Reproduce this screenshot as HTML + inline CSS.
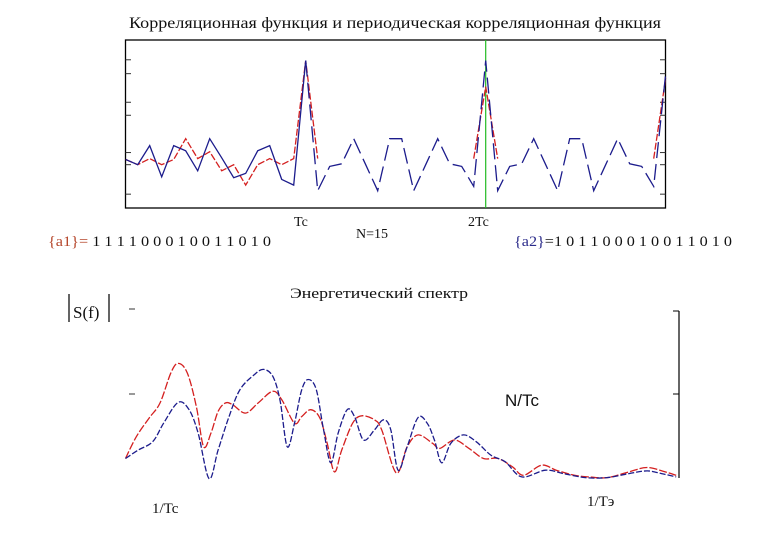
<!DOCTYPE html>
<html><head><meta charset="utf-8"><style>
html,body{margin:0;padding:0;background:#fff;width:780px;height:540px;overflow:hidden}
svg{display:block}
.t{font-family:"Liberation Serif",serif;fill:#111}
</style></head><body>
<svg width="780" height="540" viewBox="0 0 780 540">
<text class="t" x="129" y="28" font-size="16" textLength="532" lengthAdjust="spacingAndGlyphs">Корреляционная функция и периодическая корреляционная функция</text>
<rect x="125.5" y="40" width="540" height="168" fill="none" stroke="#000" stroke-width="1.3"/>
<g id="ticksTop"></g>
<line x1="485.7" y1="40" x2="485.7" y2="208" stroke="#22bb22" stroke-width="1.2"/>
<g id="topSeries"></g>
<text class="t" x="294" y="226" font-size="14">Tc</text>
<text class="t" x="356" y="238" font-size="14">N=15</text>
<text class="t" x="468" y="226" font-size="14">2Tc</text>
<text class="t" x="48" y="246" font-size="15" textLength="223" lengthAdjust="spacingAndGlyphs"><tspan fill="#b5452a">{a1}=</tspan> 1 1 1 1 0 0 0 1 0 0 1 1 0 1 0</text>
<text class="t" x="514" y="246" font-size="15" textLength="218" lengthAdjust="spacingAndGlyphs"><tspan fill="#2a2a8a">{a2}</tspan>=1 0 1 1 0 0 0 1 0 0 1 1 0 1 0</text>

<text class="t" x="290" y="298" font-size="15" textLength="178" lengthAdjust="spacingAndGlyphs">Энергетический спектр</text>
<line x1="69" y1="294" x2="69" y2="322" stroke="#111" stroke-width="1.3"/>
<text class="t" x="73" y="318" font-size="17">S(f)</text>
<line x1="109" y1="294" x2="109" y2="322" stroke="#111" stroke-width="1.3"/>
<line x1="129" y1="309" x2="135" y2="309" stroke="#333"/>
<line x1="129" y1="394" x2="135" y2="394" stroke="#333"/>
<line x1="679" y1="311" x2="679" y2="478" stroke="#000" stroke-width="1.2"/>
<line x1="673" y1="311" x2="679" y2="311" stroke="#000"/>
<line x1="673" y1="394" x2="679" y2="394" stroke="#000"/>
<g id="botSeries"></g>
<text x="505" y="406" font-size="17" font-family="Liberation Sans, sans-serif" fill="#111">N/Tc</text>
<text class="t" x="152" y="513" font-size="15">1/Tc</text>
<text class="t" x="587" y="506" font-size="15">1/Тэ</text>
</svg>
<script>
// Top chart data (correlation, shift index 0..45)
const blueAperiodic = [3.6,3.0,5.2,1.6,5.2,4.6,2.3,6.0,3.8,1.5,2.0,4.6,5.2,1.3,0.65,15];
const bluePeriodic = [0,2.8,3.1,6,3,0,6,6,0,3,6,3.1,2.8,0.5,15,0,2.8,3.1,6,3,0,6,6,0,3,6,3.1,2.8,0.5,13.5];
const redAperiodic = [3.6,3.0,3.7,3.0,3.6,6.0,3.7,4.5,2.3,3.0,0.65,3.0,3.7,3.0,3.7,15,3.7];
const redPeak2Shift = [29,30,31];
const redPeak2 = [3.7,12,3.7];
const redPeak3Shift = [44,45];
const redPeak3 = [3.7,13];
const topTicks = [15.1,13.5,10.2,8.7,4.4,3.0,-0.4];

// Bottom chart data (energy spectrum)
const redF = [0.15,0.45,0.8,1.1,1.4,1.6,1.85,2.1,2.3,2.5,2.7,2.9,3.1,3.45,3.8,4.2,4.45,4.8,5.0,5.25,5.5,5.7,5.9,6.1,6.4,6.65,7.0,7.2,7.6,7.9,8.2,8.6,8.8,9.2,9.6,10.0,10.4,10.8,11.1,11.6,12.0,12.5,12.9,13.4,14.0,14.5,15.0,15.3];
const redA = [6.5,13,18.5,23,32,34.8,32,22,10,14,20.5,23,22.5,20,23,26.5,24,17,19,21,18.5,11,2.5,9,17,19.2,18,15,2.2,10,13.5,11,9.5,12,9.5,6.5,6.5,4,1.5,4.5,3,1.5,1,0.8,2.5,3.8,2.5,1.5];
const blueF = [0.15,0.5,0.9,1.2,1.6,1.9,2.15,2.45,2.7,3.0,3.3,3.7,3.95,4.2,4.4,4.6,4.8,5.0,5.18,5.4,5.6,5.8,6.0,6.25,6.45,6.7,7.0,7.25,7.45,7.65,7.9,8.2,8.45,8.65,8.85,9.1,9.45,9.8,10.2,10.6,11.05,11.7,12.2,12.8,13.4,14.0,14.5,14.9,15.3];
const blueA = [6.5,9,11.5,17,23.2,21,14,0.5,9,19,27,31.5,33,31,24,10,17,27,30,27,15,5.2,14,21,19,12,15,18,15,3,10,18.7,17,12,5.2,11,13.5,11.5,7.5,5.5,1,3,2,0.8,0.8,2,2.8,2,1];

const NS='http://www.w3.org/2000/svg';
const tx = i => 125.7 + i*12;
const ty = v => 190.7 - v*8.67;
const bx = f => 120 + f*36.35;
const by = a => 480.3 - a*3.36;

function mk(tag, parent){const e=document.createElementNS(NS,tag);parent.appendChild(e);return e;}

const tg=document.getElementById('ticksTop');
topTicks.forEach((v)=>{
  const y=ty(v);
  const l=mk('line',tg);
  
  
  l.setAttribute('x1',125.5);l.setAttribute('x2',131);l.setAttribute('y1',y);l.setAttribute('y2',y);l.setAttribute('stroke','#333');
  const r=mk('line',tg);
  
  
  r.setAttribute('x1',660);r.setAttribute('x2',665.5);r.setAttribute('y1',y);r.setAttribute('y2',y);r.setAttribute('stroke','#333');
});

function poly(parent, xs, ys, color, dash, name){
  const p=mk('polyline',parent);
  
  
  p.setAttribute('points', xs.map((x,i)=>x.toFixed(1)+','+ys[i].toFixed(1)).join(' '));
  p.setAttribute('fill','none');p.setAttribute('stroke',color);p.setAttribute('stroke-width','1.3');
  if(dash)p.setAttribute('stroke-dasharray',dash);
}
const ts=document.getElementById('topSeries');
poly(ts, redAperiodic.map((v,i)=>tx(i)), redAperiodic.map(ty), '#d42020', '7,2', 'red-aperiodic-line');
poly(ts, redPeak2Shift.map(tx), redPeak2.map(ty), '#d42020', '7,2', 'red-periodic-peak-2');
poly(ts, redPeak3Shift.map(tx), redPeak3.map(ty), '#d42020', '7,2', 'red-periodic-peak-3');
poly(ts, blueAperiodic.map((v,i)=>tx(i)), blueAperiodic.map(ty), '#1c1c8c', null, 'blue-aperiodic-line');
poly(ts, [15].concat(bluePeriodic.map((v,i)=>16+i)).map(tx), [blueAperiodic[15]].concat(bluePeriodic).map(ty), '#1c1c8c', '16,6', 'blue-periodic-line');

function smooth(xs, ys){
  const P=xs.map((x,i)=>[x,ys[i]]);
  let d='M'+P[0][0].toFixed(1)+','+P[0][1].toFixed(1);
  for(let i=0;i<P.length-1;i++){
    const p0=P[i-1]||P[i],p1=P[i],p2=P[i+1],p3=P[i+2]||p2;
    const c1=[p1[0]+(p2[0]-p0[0])/6,p1[1]+(p2[1]-p0[1])/6];
    const c2=[p2[0]-(p3[0]-p1[0])/6,p2[1]-(p3[1]-p1[1])/6];
    d+=' C'+c1.map(v=>v.toFixed(1)).join(',')+' '+c2.map(v=>v.toFixed(1)).join(',')+' '+p2[0].toFixed(1)+','+p2[1].toFixed(1);
  }
  return d;
}
const bs=document.getElementById('botSeries');
const rp=mk('path',bs);


rp.setAttribute('d',smooth(redF.map(bx),redA.map(by)));
rp.setAttribute('fill','none');rp.setAttribute('stroke','#d42020');rp.setAttribute('stroke-width','1.3');rp.setAttribute('stroke-dasharray','8,2');
const bp=mk('path',bs);


bp.setAttribute('d',smooth(blueF.map(bx),blueA.map(by)));
bp.setAttribute('fill','none');bp.setAttribute('stroke','#1c1c8c');bp.setAttribute('stroke-width','1.3');bp.setAttribute('stroke-dasharray','6,2');
</script>
</body></html>
